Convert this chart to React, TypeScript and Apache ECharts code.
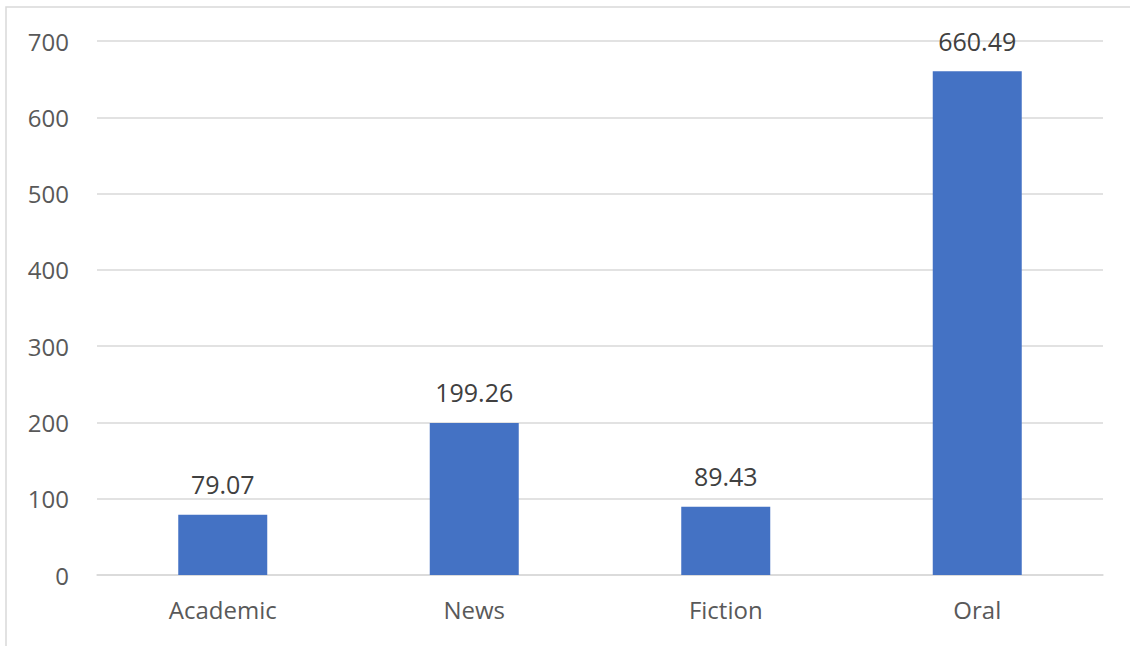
import React, { useEffect, useRef } from "react";
import * as echarts from "echarts";

const categories = ["Academic", "News", "Fiction", "Oral"];
const values = [79.07, 199.26, 89.43, 660.49];
const yTicks = [0, 100, 200, 300, 400, 500, 600, 700];

export default function App() {
  const ref = useRef<HTMLDivElement>(null);
  useEffect(() => {
    document.body.style.margin = "0";
    const chart = echarts.init(ref.current!, null, { renderer: "svg" });
    const font = "'Open Sans', 'Noto Sans', sans-serif";
    chart.setOption({
      animation: false,
      backgroundColor: "#ffffff",
      textStyle: { fontFamily: font },
      grid: { left: 97, right: 27, top: 41, bottom: 71, containLabel: false },
      graphic: [
        {
          type: "rect",
          shape: { x: 6, y: 7, width: 1200, height: 700 },
          style: { fill: "none", stroke: "#d9d9d9", lineWidth: 1.5 },
          silent: true,
        },
      ],
      xAxis: {
        type: "category",
        data: categories,
        axisLine: { show: true, lineStyle: { color: "#d9d9d9", width: 1.5 } },
        axisTick: { show: false },
        axisLabel: { color: "#595959", fontSize: 24, margin: 22, fontFamily: font },
      },
      yAxis: {
        type: "value",
        min: yTicks[0],
        max: yTicks[yTicks.length - 1],
        interval: 100,
        axisLine: { show: false },
        axisTick: { show: false },
        splitLine: { lineStyle: { color: "#d9d9d9", width: 1.5 } },
        axisLabel: { color: "#595959", fontSize: 24, margin: 28, fontFamily: font },
      },
      series: [
        {
          type: "bar",
          data: values,
          barWidth: 89,
          itemStyle: { color: "#4472c4" },
          label: {
            show: true,
            position: "top",
            distance: 18,
            color: "#404040",
            fontSize: 25,
            fontFamily: font,
            formatter: (p: any) => p.value.toFixed(2),
          },
        },
      ],
    });
    return () => chart.dispose();
  }, []);
  return (
    <div
      ref={ref}
      style={{ position: "absolute", left: 0, top: 0, width: 1130, height: 646 }}
    />
  );
}
